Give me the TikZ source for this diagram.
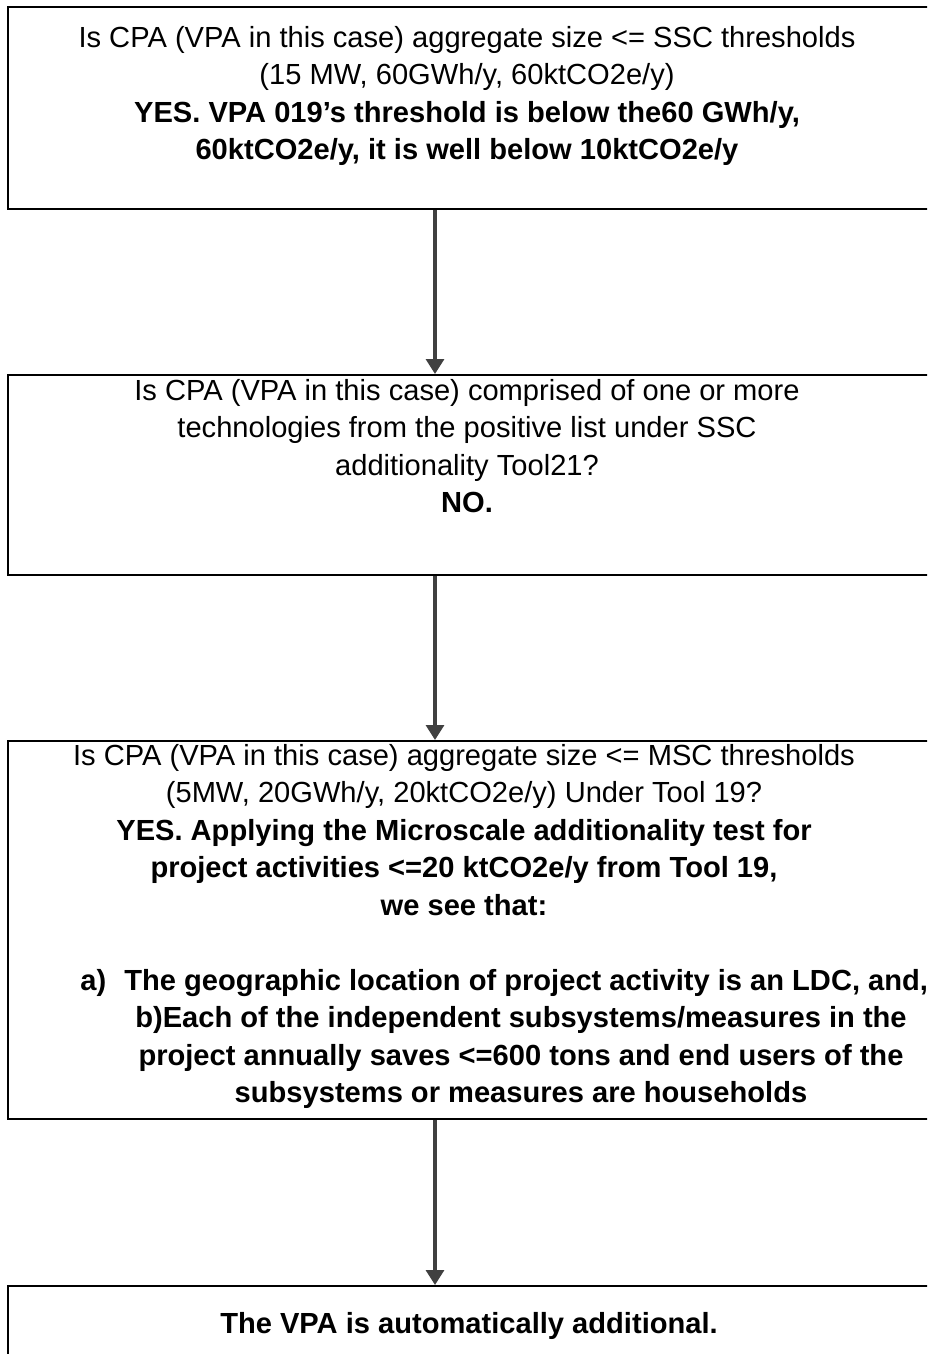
\documentclass[tikz,border=0pt]{standalone}
\usepackage{fontspec}
\setmainfont{Liberation Sans}
\usetikzlibrary{arrows.meta}
\definecolor{arrgray}{HTML}{404040}
\newcommand\mytopstrut{\rule{0pt}{12pt}}
\begin{document}
\begin{tikzpicture}[x=0.5pt,y=-0.5pt,
  boxnode/.style={draw=black, line width=1pt, rectangle, inner sep=0pt,
    minimum width=467pt, anchor=north west},
  txt/.style={inner sep=0pt, align=center, anchor=north,
    font=\fontsize{14.55pt}{18.75pt}\selectfont},
  txtl/.style={inner sep=0pt, anchor=base west,
    font=\fontsize{14.55pt}{18.75pt}\selectfont\bfseries},
  arr/.style={draw=arrgray, line width=1.6pt, -{Triangle[width=9pt,length=7.5pt]}}]
\useasboundingbox (0,0) rectangle (927,1354);
\clip (0,0) rectangle (927,1354);
\fill[white] (0,0) rectangle (927,1354);
% boxes
\node[boxnode, minimum height=101pt] (b1) at (7,6) {};
\node[boxnode, minimum height=100pt] (b2) at (7,374) {};
\node[boxnode, minimum height=189pt] (b3) at (7,740) {};
\node[boxnode, minimum height=110pt] (b4) at (7,1285) {};
\coordinate (ax) at (435,0);
% texts
\node[txt] (t1) at (467,23) {\mytopstrut Is CPA (VPA in this case) aggregate size <= SSC thresholds\\
  (15 MW, 60GWh/y, 60ktCO2e/y)\\
  \textbf{YES. VPA 019’s threshold is below the60 GWh/y,}\\
  \textbf{60ktCO2e/y, it is well below 10ktCO2e/y}};
\node[txt] (t2) at (467,376) {\mytopstrut Is CPA (VPA in this case) comprised of one or more\\
  technologies from the positive list under SSC\\
  additionality Tool21?\\
  \textbf{NO.}};
\node[txt] (t3) at (464,741) {\mytopstrut Is CPA (VPA in this case) aggregate size <= MSC thresholds\\
  (5MW, 20GWh/y, 20ktCO2e/y) Under Tool 19?\\
  \textbf{YES. Applying the Microscale additionality test for}\\
  \textbf{project activities <=20 ktCO2e/y from Tool 19,}\\
  \textbf{we see that:}};
\node[txtl] (t3a) at (80,990) {a)};
\node[txtl] (t3b) at (124,990) {The geographic location of project activity is an LDC, and,};
\node[txt] (t3c) at (521,1003.5) {\mytopstrut\bfseries b)Each of the independent subsystems/measures in the\\
  \bfseries project annually saves <=600 tons and end users of the\\
  \bfseries subsystems or measures are households};
\node[txt] (t4) at (469,1309) {\mytopstrut\textbf{The VPA is automatically additional.}};
% arrows
\draw[arr] (b1.south -| ax) -- (b2.north -| ax);
\draw[arr] (b2.south -| ax) -- (b3.north -| ax);
\draw[arr] (b3.south -| ax) -- (b4.north -| ax);
\end{tikzpicture}
\end{document}
